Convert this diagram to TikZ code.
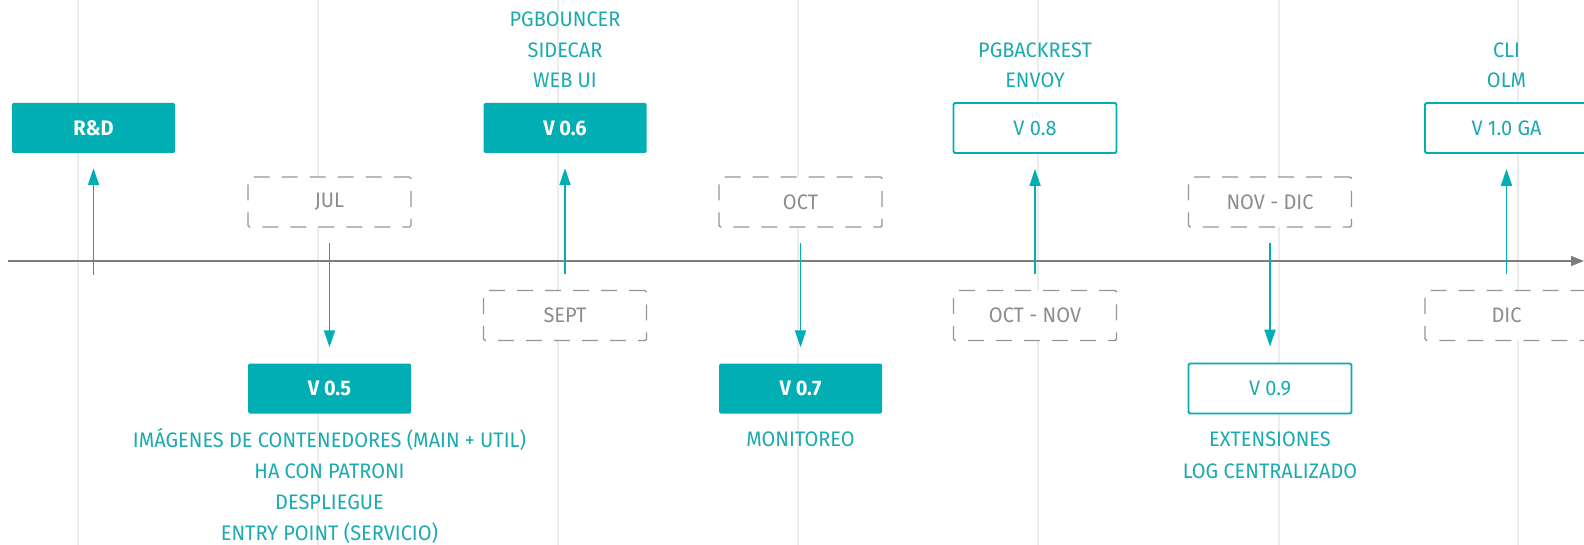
\documentclass[tikz,border=0pt]{standalone}
\usepackage{fontspec}
\setmainfont[FakeStretch=0.95]{Fira Sans}
\usetikzlibrary{arrows.meta}
\definecolor{tealfill}{RGB}{0,174,179}
\definecolor{tealtxt}{RGB}{26,170,176}
\definecolor{mgray}{RGB}{150,150,150}
\definecolor{mtxt}{RGB}{140,140,140}
\definecolor{axisgray}{RGB}{125,125,125}
\definecolor{gridgray}{RGB}{236,236,236}
\tikzset{
  boxbase/.style={minimum width=163pt, minimum height=50pt, inner sep=0pt, rounded corners=1.5pt, font={\fontsize{21}{24}\selectfont}},
  filledbox/.style={boxbase, fill=tealfill, text=white, font={\bfseries\fontsize{21}{24}\selectfont}},
  openbox/.style={boxbase, draw=tealfill, line width=1.8pt, fill=white, text=tealtxt},
  monthbox/.style={boxbase, draw=mgray, dash pattern=on 16pt off 12pt, line width=1.4pt, fill=white, text=mtxt},
  itemlabel/.style={text=tealtxt, inner sep=0pt, font={\fontsize{21}{24}\selectfont}},
  conn/.style={draw=tealfill, line width=1.8pt, -{Triangle[length=17pt,width=11pt]}},
  gridline/.style={draw=gridgray, line width=2pt},
  axisline/.style={draw=axisgray, line width=1.2pt, -{Triangle[length=13pt,width=10pt]}},
}
\begin{document}
\begin{tikzpicture}[x=1pt,y=-1pt]
\clip (0,0) rectangle (1584,545);
\fill[white] (0,0) rectangle (1584,545);
% grid lines
\foreach \gx/\gn in {78/g1,318/g2,558/g3,798/g4,1038/g5,1279/g6,1518/g7}{
  \coordinate (\gn t) at (\gx,0);
  \coordinate (\gn b) at (\gx,545);
  \draw[gridline] (\gn t) -- (\gn b);
}
% axis
\coordinate (axL) at (8,261);
\coordinate (axR) at (1584,261);
\draw[axisline] (axL) -- (axR);

% top boxes
\node[filledbox] (RD)  at (93.5,128) {R\&D};
\node[filledbox] (V06) at (565,128) {V 0.6};
\node[openbox]   (V08) at (1035,128) {V 0.8};
\node[openbox]   (V10) at (1506.5,128) {V 1.0 GA};
% bottom boxes
\node[filledbox] (V05) at (329.5,388.5) {V 0.5};
\node[filledbox] (V07) at (800.5,388.5) {V 0.7};
\node[openbox]   (V09) at (1270,388.5) {V 0.9};
% month boxes (upper row)
\node[monthbox] (JUL)   at (329.5,202) {JUL};
\node[monthbox] (OCT)   at (800.5,202) {OCT};
\node[monthbox] (NOVDIC) at (1270,202) {NOV - DIC};
% month boxes (lower row)
\node[monthbox] (SEPT)  at (565,315.5) {SEPT};
\node[monthbox] (OCTNOV) at (1035,315.5) {OCT - NOV};
\node[monthbox] (DIC)   at (1506.5,315.5) {DIC};

% connectors
\coordinate (rdstart) at (93.5,275);
\draw[conn] (rdstart) -- ([yshift=-15pt]RD.south);
\draw[conn] ([yshift=16pt]SEPT.north) -- ([yshift=-15pt]V06.south);
\draw[conn] ([yshift=16pt]OCTNOV.north) -- ([yshift=-15pt]V08.south);
\draw[conn] ([yshift=16pt]DIC.north) -- ([yshift=-15pt]V10.south);
\draw[conn] ([yshift=-15pt]JUL.south) -- ([yshift=16pt]V05.north);
\draw[conn] ([yshift=-15pt]OCT.south) -- ([yshift=16pt]V07.north);
\draw[conn] ([yshift=-15pt]NOVDIC.south) -- ([yshift=16pt]V09.north);

% labels above
\node[itemlabel] (l06a) at (565,19) {PGBOUNCER};
\node[itemlabel] (l06b) at (565,50) {SIDECAR};
\node[itemlabel] (l06c) at (565,80) {WEB UI};
\node[itemlabel] (l08a) at (1035,50) {PGBACKREST};
\node[itemlabel] (l08b) at (1035,80) {ENVOY};
\node[itemlabel] (l10a) at (1506.5,50) {CLI};
\node[itemlabel] (l10b) at (1506.5,80) {OLM};
% labels below
\node[itemlabel] (l05a) at (329.5,439) {IMÁGENES DE CONTENEDORES (MAIN + UTIL)};
\node[itemlabel] (l05b) at (329.5,471) {HA CON PATRONI};
\node[itemlabel] (l05c) at (329.5,502) {DESPLIEGUE};
\node[itemlabel] (l05d) at (329.5,533) {ENTRY POINT (SERVICIO)};
\node[itemlabel] (l07a) at (800.5,439) {MONITOREO};
\node[itemlabel] (l09a) at (1270,439) {EXTENSIONES};
\node[itemlabel] (l09b) at (1270,471) {LOG CENTRALIZADO};
\end{tikzpicture}
\end{document}
